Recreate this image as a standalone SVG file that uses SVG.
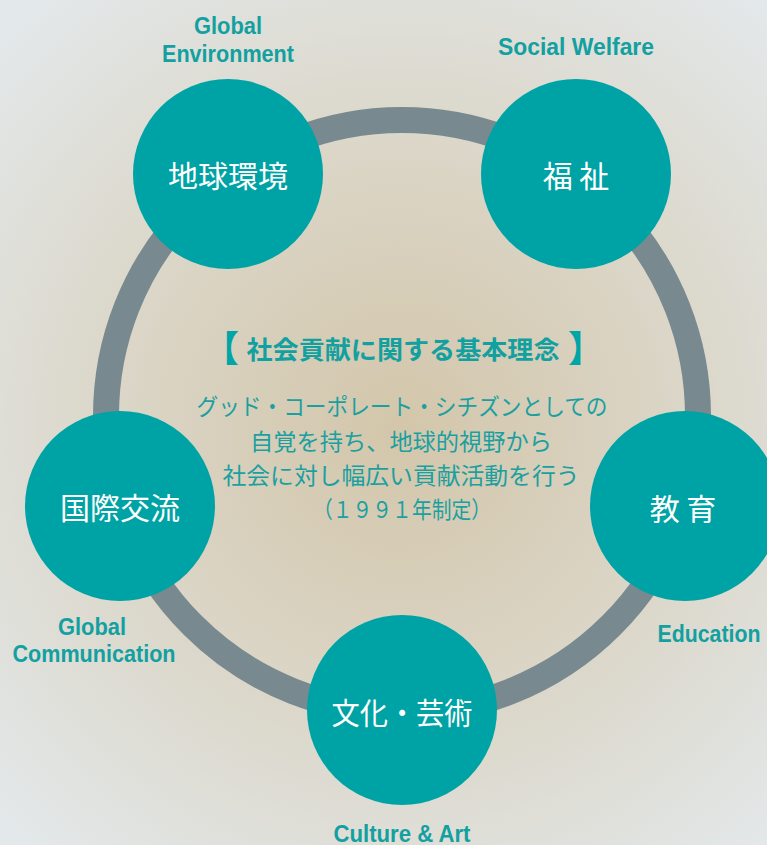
<svg xmlns="http://www.w3.org/2000/svg" width="767" height="845" viewBox="0 0 767 845">
<defs>
<radialGradient id="bg" cx="400" cy="430" r="560" gradientUnits="userSpaceOnUse">
<stop offset="0" stop-color="#d3c6aa"/>
<stop offset="0.45" stop-color="#dad4c4"/>
<stop offset="1" stop-color="#e3e8ea"/>
</radialGradient>
<style>
.node{fill:#00a3a5}
.nt{fill:#ffffff;font-family:"Noto Sans CJK JP","Noto Sans CJK SC",sans-serif;font-size:30px;text-anchor:middle}
.lbl{fill:#12a0a0;font-family:"Liberation Sans",Arial,sans-serif;font-weight:bold;font-size:24px;text-anchor:middle}
.title{fill:#12a0a0;font-family:"Noto Sans CJK JP",sans-serif;font-weight:bold;font-size:25px;text-anchor:middle}
.br{fill:#00a5a5;font-family:"Noto Sans CJK JP",sans-serif;font-weight:bold;font-size:36px;text-anchor:middle}
.body{fill:#1aa0a0;font-family:"Noto Sans CJK JP",sans-serif;font-size:23px;text-anchor:middle}
</style>
</defs>
<rect x="0" y="0" width="767" height="845" fill="url(#bg)"/>
<g id="connectors">
<circle cx="402" cy="416" r="296" fill="none" stroke="#788a8f" stroke-width="26"/>
</g>
<g id="center-text">
<text class="br" x="221" y="362">【</text>
<text class="br" x="586" y="362">】</text>
<text class="title" x="403" y="359" textLength="313" lengthAdjust="spacingAndGlyphs">社会貢献に関する基本理念</text>
<text class="body" x="402" y="415" textLength="411" lengthAdjust="spacingAndGlyphs">グッド・コーポレート・シチズンとしての</text>
<text class="body" x="401" y="450" textLength="302" lengthAdjust="spacingAndGlyphs">自覚を持ち、地球的視野から</text>
<text class="body" x="401" y="484" textLength="357" lengthAdjust="spacingAndGlyphs">社会に対し幅広い貢献活動を行う</text>
<text class="body" x="402" y="518" textLength="178" lengthAdjust="spacingAndGlyphs">（１９９１年制定）</text>
</g>
<g id="node-global-environment">
<circle class="node" cx="228" cy="174" r="95"/>
<text class="nt" x="228" y="187">地球環境</text>
<text class="lbl" x="228" y="34" textLength="68" lengthAdjust="spacingAndGlyphs">Global</text>
<text class="lbl" x="228" y="62" textLength="132" lengthAdjust="spacingAndGlyphs">Environment</text>
</g>
<g id="node-social-welfare">
<circle class="node" cx="576" cy="174" r="95"/>
<text class="nt" x="576" y="187">福 祉</text>
<text class="lbl" x="576" y="55" textLength="156" lengthAdjust="spacingAndGlyphs">Social Welfare</text>
</g>
<g id="node-global-communication">
<circle class="node" cx="120" cy="506" r="95"/>
<text class="nt" x="120" y="519">国際交流</text>
<text class="lbl" x="92" y="635" textLength="68" lengthAdjust="spacingAndGlyphs">Global</text>
<text class="lbl" x="94" y="662" textLength="163" lengthAdjust="spacingAndGlyphs">Communication</text>
</g>
<g id="node-education">
<circle class="node" cx="685" cy="506" r="95"/>
<text class="nt" x="683" y="520">教 育</text>
<text class="lbl" x="709" y="642" textLength="103" lengthAdjust="spacingAndGlyphs">Education</text>
</g>
<g id="node-culture-art">
<circle class="node" cx="402" cy="710" r="95"/>
<text class="nt" x="402" y="724" textLength="141" lengthAdjust="spacingAndGlyphs">文化・芸術</text>
<text class="lbl" x="402" y="842" textLength="137" lengthAdjust="spacingAndGlyphs">Culture &amp; Art</text>
</g>
</svg>
